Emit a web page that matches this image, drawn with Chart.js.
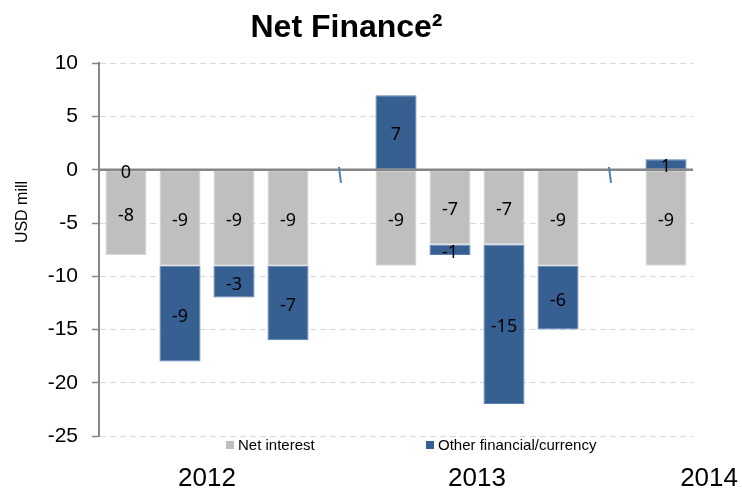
<!DOCTYPE html>
<html lang="en">
<head>
<meta charset="UTF-8">
<title>Net Finance</title>
<script src="https://cdn.jsdelivr.net/npm/chart.js"></script>
<style>
  body { margin: 0; background: #fff; }
</style>
</head>
<body>
<canvas id="grafico" width="742" height="494"></canvas>
<script>
// quarters, empty slots are the gaps between years
const quarters = ['Q1 12', 'Q2 12', 'Q3 12', 'Q4 12', '', 'Q1 13', 'Q2 13', 'Q3 13', 'Q4 13', '', 'Q1 14'];
const netInterest = [-8, -9, -9, -9, null, -9, -7, -7, -9, null, -9];
const otherFinancial = [0, -9, -3, -7, null, 7, -1, -15, -6, null, 1];
const years = ['2012', '2013', '2014'];
const yearGroups = [[0, 3], [5, 8], [10, 10]];
const yTicks = [10, 5, 0, -5, -10, -15, -20, -25];

const GRAY = '#BFBFBF';
const BLUE = '#376092';
const AXIS = '#868686';

Chart.defaults.font.family = '"Liberation Sans", Arial, sans-serif';
Chart.defaults.color = '#000';

// labels in the middle of each bar piece
const barLabels = {
  id: 'barLabels',
  afterDatasetsDraw(chart) {
    const ctx = chart.ctx;
    const y = chart.scales.y;
    // zero line on top of the bars
    const y0 = y.getPixelForValue(0);
    ctx.save();
    ctx.strokeStyle = AXIS;
    ctx.lineWidth = 2.5;
    ctx.beginPath();
    ctx.moveTo(chart.chartArea.left, y0);
    ctx.lineTo(chart.chartArea.right, y0);
    ctx.stroke();

    ctx.font = '18px "Noto Sans", sans-serif';
    ctx.fillStyle = '#000';
    ctx.textAlign = 'center';
    ctx.textBaseline = 'middle';
    chart.data.datasets.forEach((ds, di) => {
      const meta = chart.getDatasetMeta(di);
      meta.data.forEach((bar, i) => {
        const v = ds.data[i];
        if (v === null) return;
        // a zero value is labelled on the zero line
        const cy = v === 0 ? y0 : (bar.y + bar.base) / 2;
        ctx.fillText(String(v), bar.x, cy + 3);
      });
    });

    // axis break marks in the empty slots
    const x = chart.scales.x;
    ctx.strokeStyle = '#4F81BD';
    ctx.lineWidth = 2;
    quarters.forEach((q, i) => {
      if (netInterest[i] !== null || otherFinancial[i] !== null) return;
      const px = x.getPixelForValue(i);
      ctx.beginPath();
      ctx.moveTo(px - 3, y0 - 3);
      ctx.lineTo(px - 1, y0 + 13);
      ctx.stroke();
    });
    ctx.restore();
  },
  afterDraw(chart) {
    const ctx = chart.ctx;
    const x = chart.scales.x;
    ctx.save();

    // y axis title
    ctx.font = '16px "Liberation Sans", Arial, sans-serif';
    ctx.fillStyle = '#000';
    ctx.textAlign = 'center';
    ctx.textBaseline = 'middle';
    ctx.translate(23, 212);
    ctx.rotate(-Math.PI / 2);
    ctx.fillText('USD mill', 0, 0);
    ctx.setTransform(1, 0, 0, 1, 0, 0);

    // legend
    ctx.font = '15px "Liberation Sans", Arial, sans-serif';
    ctx.textAlign = 'left';
    const legendX = [226, 426];
    const ly = chart.chartArea.bottom + 9;
    chart.data.datasets.forEach((ds, di) => {
      ctx.fillStyle = ds.backgroundColor;
      ctx.fillRect(legendX[di], ly - 4, 8, 8);
      ctx.fillStyle = '#000';
      ctx.fillText(ds.label, legendX[di] + 12, ly + 1);
    });

    // year labels
    ctx.font = '26px "Liberation Sans", Arial, sans-serif';
    years.forEach((yr, i) => {
      const g = yearGroups[i];
      if (i === years.length - 1) {
        ctx.textAlign = 'right';
        ctx.fillText(yr, chart.width - 4, 479);
      } else {
        ctx.textAlign = 'center';
        const px = (x.getPixelForValue(g[0]) + x.getPixelForValue(g[1])) / 2;
        ctx.fillText(yr, px, 479);
      }
    });
    ctx.restore();
  }
};

new Chart(document.getElementById('grafico'), {
  type: 'bar',
  data: {
    labels: quarters,
    datasets: [
      { label: 'Net interest', data: netInterest, backgroundColor: GRAY,
        borderColor: '#D9D9D9', borderWidth: 1, borderSkipped: false },
      { label: 'Other financial/currency', data: otherFinancial, backgroundColor: BLUE,
        borderColor: '#5A7FAE', borderWidth: 1, borderSkipped: false }
    ]
  },
  options: {
    responsive: false,
    animation: false,
    layout: { padding: { left: 0, right: 49, top: 0, bottom: 58 } },
    datasets: { bar: { categoryPercentage: 1, barPercentage: 0.76 } },
    plugins: {
      legend: { display: false },
      tooltip: { enabled: false },
      title: {
        display: true,
        text: 'Net Finance²',
        font: { size: 32, weight: 'bold' },
        color: '#000',
        padding: { top: 9, bottom: 16 }
      }
    },
    scales: {
      x: { stacked: true, display: false },
      y: {
        stacked: true,
        min: -25,
        max: 10,
        afterFit(scale) { scale.width = 99; },
        afterBuildTicks(scale) { scale.ticks = yTicks.map(v => ({ value: v })); },
        ticks: { font: { size: 21 }, color: '#000', padding: 14 },
        grid: {
          color: ctx => (ctx.tick && ctx.tick.value === 0) ? AXIS : '#D9D9D9',
          lineWidth: 1,
          tickLength: 7,
          tickColor: AXIS,
          tickWidth: 1.5
        },
        border: {
          color: AXIS,
          width: 2,
          dash: ctx => (ctx.tick && ctx.tick.value !== 0) ? [6, 4] : []
        }
      }
    }
  },
  plugins: [barLabels]
});
</script>
</body>
</html>
